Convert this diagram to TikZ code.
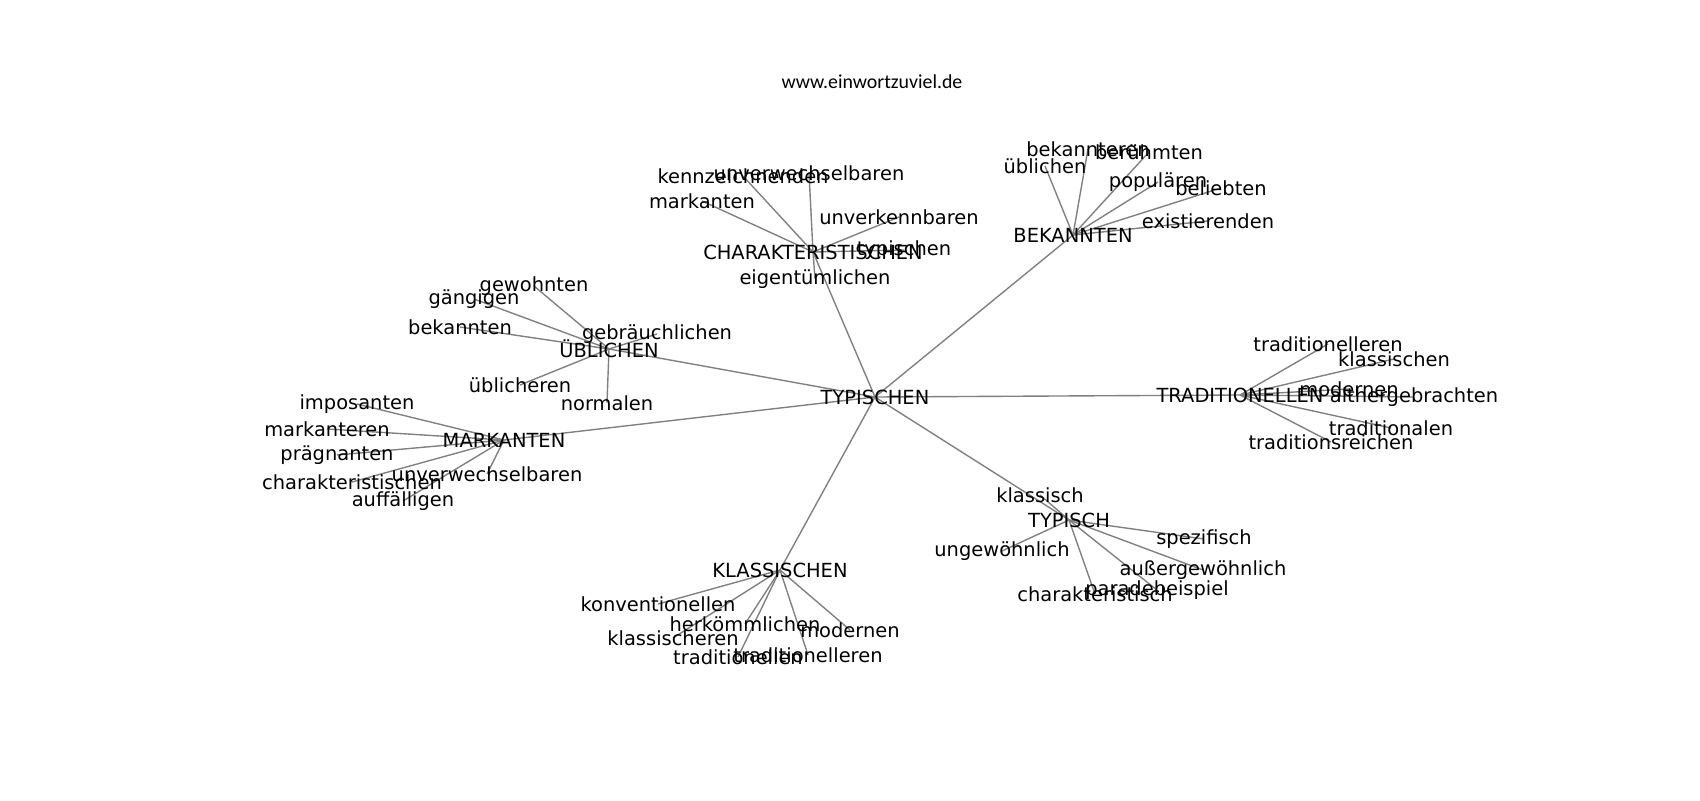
\documentclass[tikz,border=0pt]{standalone}
\usepackage{fontspec}
\setmainfont{DejaVu Sans}
\newfontfamily\sitefont{Carlito}
\usetikzlibrary{backgrounds}

\begin{document}
\begin{tikzpicture}[x=0.72pt, y=-0.72pt,
    word/.style={font=\fontsize{14}{16}\selectfont, inner sep=0pt},
    link/.style={draw=gray, line width=1pt}]
    \useasboundingbox (0,0) rectangle (1700,800);
    \node[font=\sitefont\fontsize{14.3}{16}\selectfont] (site) at (872,82) {www.einwortzuviel.de};

    % Centre word
    \node[word] (typischen) at (875,397) {TYPISCHEN};

    % Hubs
    \node[word] (charakteristischen) at (813,252) {CHARAKTERISTISCHEN};
    \node[word] (bekannten) at (1073,235) {BEKANNTEN};
    \node[word] (ueblichen) at (609,349) {ÜBLICHEN};
    \node[word] (markanten) at (504,440) {MARKANTEN};
    \node[word] (klassischen) at (780,570) {KLASSISCHEN};
    \node[word] (typisch) at (1069,520) {TYPISCH};
    \node[word] (traditionellen) at (1240,395) {TRADITIONELLEN};

    % CHARAKTERISTISCHEN
    \node[word] (ch-kennzeichnenden) at (743,176) {kennzeichnenden};
    \node[word] (ch-unverwechselbaren) at (809,173) {unverwechselbaren};
    \node[word] (ch-markanten) at (702,201) {markanten};
    \node[word] (ch-unverkennbaren) at (899,217) {unverkennbaren};
    \node[word] (ch-typischen) at (904,250) {typischen};
    \node[word] (ch-eigentuemlichen) at (815,279) {eigentümlichen};

    % BEKANNTEN
    \node[word] (bk-bekannteren) at (1088,149) {bekannteren};
    \node[word] (bk-beruehmten) at (1149,152) {berühmten};
    \node[word] (bk-ueblichen) at (1045,166) {üblichen};
    \node[word] (bk-populaeren) at (1158,182) {populären};
    \node[word] (bk-beliebten) at (1221,188) {beliebten};
    \node[word] (bk-existierenden) at (1208,221) {existierenden};

    % ÜBLICHEN
    \node[word] (ub-gewohnten) at (534,286) {gewohnten};
    \node[word] (ub-gaengigen) at (474,299) {gängigen};
    \node[word] (ub-bekannten) at (460,327) {bekannten};
    \node[word] (ub-gebraeuchlichen) at (657,334) {gebräuchlichen};
    \node[word] (ub-ueblicheren) at (520,385) {üblicheren};
    \node[word] (ub-normalen) at (607,403) {normalen};

    % MARKANTEN
    \node[word] (mk-imposanten) at (357,404) {imposanten};
    \node[word] (mk-markanteren) at (327,429) {markanteren};
    \node[word] (mk-praegnanten) at (337,455) {prägnanten};
    \node[word] (mk-charakteristischen) at (352,482) {charakteristischen};
    \node[word] (mk-unverwechselbaren) at (487,474) {unverwechselbaren};
    \node[word] (mk-auffaelligen) at (403,501) {auffälligen};

    % KLASSISCHEN
    \node[word] (kl-konventionellen) at (658,604) {konventionellen};
    \node[word] (kl-herkoemmlichen) at (745,624) {herkömmlichen};
    \node[word] (kl-klassischeren) at (673,638) {klassischeren};
    \node[word] (kl-traditionellen) at (738,657) {traditionellen};
    \node[word] (kl-traditionelleren) at (808,655) {traditionelleren};
    \node[word] (kl-modernen) at (850,630) {modernen};

    % TYPISCH
    \node[word] (ty-klassisch) at (1040,495) {klassisch};
    \node[word] (ty-ungewoehnlich) at (1002,551) {ungewöhnlich};
    \node[word] (ty-charakteristisch) at (1095,594) {charakteristisch};
    \node[word] (ty-paradebeispiel) at (1157,590) {paradebeispiel};
    \node[word] (ty-aussergewoehnlich) at (1203,570) {außergewöhnlich};
    \node[word] (ty-spezifisch) at (1204,539) {spezifisch};

    % TRADITIONELLEN
    \node[word] (tr-traditionelleren) at (1328,344) {traditionelleren};
    \node[word] (tr-klassischen) at (1394,359) {klassischen};
    \node[word] (tr-modernen) at (1349,389) {modernen};
    \node[word] (tr-althergebrachten) at (1414,397) {althergebrachten};
    \node[word] (tr-traditionalen) at (1391,428) {traditionalen};
    \node[word] (tr-traditionsreichen) at (1331,442) {traditionsreichen};

    \begin{scope}[on background layer]
    % Centre to hubs
    \draw[link] (typischen.center) -- (charakteristischen.center);
    \draw[link] (typischen.center) -- (bekannten.center);
    \draw[link] (typischen.center) -- (ueblichen.center);
    \draw[link] (typischen.center) -- (markanten.center);
    \draw[link] (typischen.center) -- (klassischen.center);
    \draw[link] (typischen.center) -- (typisch.center);
    \draw[link] (typischen.center) -- (traditionellen.center);

    % Hubs to leaves
    \draw[link] (charakteristischen.center) -- (ch-kennzeichnenden.center);
    \draw[link] (charakteristischen.center) -- (ch-unverwechselbaren.center);
    \draw[link] (charakteristischen.center) -- (ch-markanten.center);
    \draw[link] (charakteristischen.center) -- (ch-unverkennbaren.center);
    \draw[link] (charakteristischen.center) -- (ch-typischen.center);
    \draw[link] (charakteristischen.center) -- (ch-eigentuemlichen.center);

    \draw[link] (bekannten.center) -- (bk-bekannteren.center);
    \draw[link] (bekannten.center) -- (bk-beruehmten.center);
    \draw[link] (bekannten.center) -- (bk-ueblichen.center);
    \draw[link] (bekannten.center) -- (bk-populaeren.center);
    \draw[link] (bekannten.center) -- (bk-beliebten.center);
    \draw[link] (bekannten.center) -- (bk-existierenden.center);

    \draw[link] (ueblichen.center) -- (ub-gewohnten.center);
    \draw[link] (ueblichen.center) -- (ub-gaengigen.center);
    \draw[link] (ueblichen.center) -- (ub-bekannten.center);
    \draw[link] (ueblichen.center) -- (ub-gebraeuchlichen.center);
    \draw[link] (ueblichen.center) -- (ub-ueblicheren.center);
    \draw[link] (ueblichen.center) -- (ub-normalen.center);

    \draw[link] (markanten.center) -- (mk-imposanten.center);
    \draw[link] (markanten.center) -- (mk-markanteren.center);
    \draw[link] (markanten.center) -- (mk-praegnanten.center);
    \draw[link] (markanten.center) -- (mk-charakteristischen.center);
    \draw[link] (markanten.center) -- (mk-unverwechselbaren.center);
    \draw[link] (markanten.center) -- (mk-auffaelligen.center);

    \draw[link] (klassischen.center) -- (kl-konventionellen.center);
    \draw[link] (klassischen.center) -- (kl-herkoemmlichen.center);
    \draw[link] (klassischen.center) -- (kl-klassischeren.center);
    \draw[link] (klassischen.center) -- (kl-traditionellen.center);
    \draw[link] (klassischen.center) -- (kl-traditionelleren.center);
    \draw[link] (klassischen.center) -- (kl-modernen.center);

    \draw[link] (typisch.center) -- (ty-klassisch.center);
    \draw[link] (typisch.center) -- (ty-ungewoehnlich.center);
    \draw[link] (typisch.center) -- (ty-charakteristisch.center);
    \draw[link] (typisch.center) -- (ty-paradebeispiel.center);
    \draw[link] (typisch.center) -- (ty-aussergewoehnlich.center);
    \draw[link] (typisch.center) -- (ty-spezifisch.center);

    \draw[link] (traditionellen.center) -- (tr-traditionelleren.center);
    \draw[link] (traditionellen.center) -- (tr-klassischen.center);
    \draw[link] (traditionellen.center) -- (tr-modernen.center);
    \draw[link] (traditionellen.center) -- (tr-althergebrachten.center);
    \draw[link] (traditionellen.center) -- (tr-traditionalen.center);
    \draw[link] (traditionellen.center) -- (tr-traditionsreichen.center);
    \end{scope}
\end{tikzpicture}
\end{document}
